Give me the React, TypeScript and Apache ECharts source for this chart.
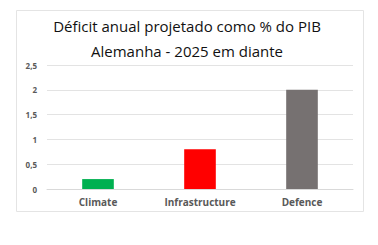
import React, { useEffect, useRef } from "react";
import * as echarts from "echarts";

const categories = ["Climate", "Infrastructure", "Defence"];
const values = [0.2, 0.8, 2.0];
const barColors = ["#00B050", "#FF0000", "#767171"];
const titleLines = ["Déficit anual projetado como % do PIB", "Alemanha - 2025 em diante"];

export default function App() {
  const ref = useRef<HTMLDivElement>(null);
  useEffect(() => {
    const chart = echarts.init(ref.current!, null, { renderer: "svg" });
    chart.setOption({
      animation: false,
      backgroundColor: "#ffffff",
      title: {
        text: titleLines.join("\n"),
        left: 182,
        textAlign: "center",
        top: 8,
        textStyle: {
          fontFamily: "Open Sans",
          fontSize: 15,
          fontWeight: "normal",
          color: "#111111",
          lineHeight: 25,
        },
      },
      graphic: [
        {
          type: "rect",
          shape: { x: 16.5, y: 10.5, width: 347, height: 201 },
          style: { fill: "none", stroke: "#e4e4e4", lineWidth: 1 },
          silent: true,
        },
      ],
      grid: { left: 47, right: 25, top: 65, bottom: 56 },
      xAxis: {
        type: "category",
        data: categories,
        axisLine: { show: true, lineStyle: { color: "#d9d9d9" } },
        axisTick: { show: false },
        axisLabel: {
          margin: 8,
          fontFamily: "Open Sans",
          fontSize: 10,
          fontWeight: "bold",
          color: "#595959",
        },
      },
      yAxis: {
        type: "value",
        min: 0,
        max: 2.5,
        interval: 0.5,
        axisLine: { show: false },
        axisTick: { show: false },
        splitLine: { lineStyle: { color: "#e3e3e3" } },
        axisLabel: {
          margin: 10,
          fontFamily: "Open Sans",
          fontSize: 8,
          fontWeight: "bold",
          color: "#595959",
          formatter: (v: number) => String(v).replace(".", ","),
        },
      },
      series: [
        {
          type: "bar",
          data: values.map((v, i) => ({ value: v, itemStyle: { color: barColors[i] } })),
          barWidth: "31%",
        },
      ],
    });
    return () => chart.dispose();
  }, []);
  return (
    <div
      ref={ref}
      style={{ position: "fixed", left: 0, top: 0, width: 378, height: 245 }}
    />
  );
}
